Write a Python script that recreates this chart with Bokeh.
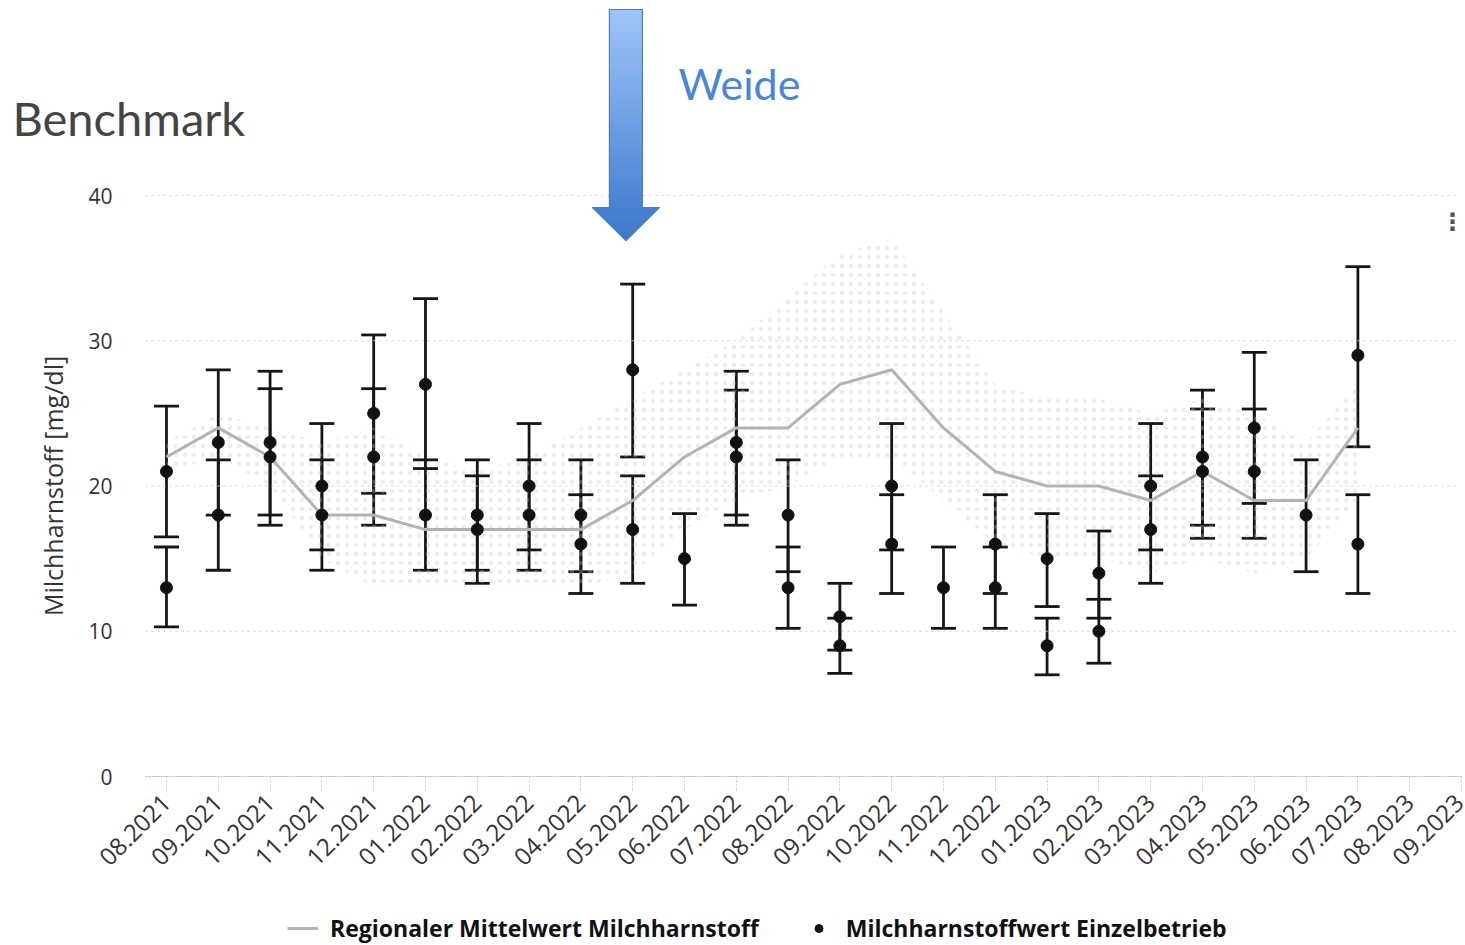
import math
from bokeh.plotting import figure
from bokeh.models import (Range1d, FixedTicker, Whisker, TeeHead, ColumnDataSource,
                          Legend, LegendItem, Label)
from bokeh.embed import file_html
from bokeh.resources import INLINE

# ---------------- data ----------------
months = ["08.2021", "09.2021", "10.2021", "11.2021", "12.2021", "01.2022", "02.2022",
          "03.2022", "04.2022", "05.2022", "06.2022", "07.2022", "08.2022", "09.2022",
          "10.2022", "11.2022", "12.2022", "01.2023", "02.2023", "03.2023", "04.2023",
          "05.2023", "06.2023", "07.2023", "08.2023", "09.2023"]

# regional mean (08.2021 .. 07.2023)
regional_mean = [22, 24, 22, 18, 18, 17, 17, 17, 17, 19, 22, 24, 24, 27, 28, 24,
                 21, 20, 20, 19, 21, 19, 19, 24]
# faint regional spread band
band_low = [21, 22, 20, 15, 13, 13, 13, 13, 13, 14, 17, 19, 20, 22, 22, 19,
            16, 15, 15, 14, 15, 14, 15, 19]
band_high = [23, 25, 24, 23, 24, 22, 21, 22, 24, 26, 28, 30, 33, 36, 37, 32,
             27, 26, 26, 25, 26, 25, 23, 27]

# single-farm values (first measurement) with error bars
farm_a = [21, 23, 23, 20, 25, 27, 18, 20, 18, 28, 15, 23, 18, 11, 20, 13,
          16, 15, 14, 20, 22, 24, 18, 29]
farm_a_low = [16.5, 18.0, 18.0, 15.6, 19.5, 21.2, 14.2, 15.6, 14.1, 22.0, 11.8, 18.0,
              14.1, 8.7, 15.6, 10.2, 12.6, 11.7, 10.9, 15.6, 17.3, 18.8, 14.1, 22.7]
farm_a_high = [25.5, 28.0, 27.9, 24.3, 30.4, 32.9, 21.8, 24.3, 21.8, 33.9, 18.1, 27.9,
               21.8, 13.3, 24.3, 15.8, 19.4, 18.1, 16.9, 24.3, 26.6, 29.2, 21.8, 35.1]
# second measurement (None = no second value)
farm_b = [13, 18, 22, 18, 22, 18, 17, 18, 16, 17, None, 22, 13, 9, 16, None,
          13, 9, 10, 17, 21, 21, None, 16]
farm_b_low = [10.3, 14.2, 17.3, 14.2, 17.3, 14.2, 13.3, 14.2, 12.6, 13.3, None, 17.3,
              10.2, 7.1, 12.6, None, 10.2, 7.0, 7.8, 13.3, 16.4, 16.4, None, 12.6]
farm_b_high = [15.8, 21.8, 26.7, 21.8, 26.7, 21.8, 20.7, 21.8, 19.4, 20.7, None, 26.6,
               15.8, 10.9, 19.4, None, 15.8, 10.9, 12.2, 20.7, 25.3, 25.3, None, 19.4]

y_ticks = [0, 10, 20, 30, 40]
pasture_month = "05.2022"

# ---------------- layout constants (page px) ----------------
W, H = 1465, 945
PLOT_L, PLOT_R = 145, 1457      # chart area left / right
ZERO_Y, FORTY_Y = 776, 195      # page y of value 0 and 40
PX_X = 51.8
X0 = -0.405                     # data x at PLOT_L
PX_Y = (ZERO_Y - FORTY_Y) / 40.0
XS = X0 - PLOT_L / PX_X
XE = XS + W / PX_X
X_END = X0 + (PLOT_R - PLOT_L) / PX_X
YB = -(H - ZERO_Y) / PX_Y
YT = ZERO_Y / PX_Y


def data_x(px):
    return XS + px / PX_X


def data_y(py):
    return (ZERO_Y - py) / PX_Y


p = figure(width=W, height=H, output_backend="svg", toolbar_location=None,
           x_range=Range1d(XS, XE), y_range=Range1d(YB, YT),
           min_border_left=0, min_border_right=0, min_border_top=0, min_border_bottom=0)
p.outline_line_color = None
p.background_fill_color = "white"
p.border_fill_color = "white"
p.xgrid.visible = False
p.ygrid.visible = False

# x axis (drawn at value 0)
xa = p.xaxis[0]
xa.fixed_location = 0
xa.bounds = (X0, len(months) - 1)
xa.ticker = FixedTicker(ticks=list(range(len(months))))
xa.major_label_overrides = {i: m for i, m in enumerate(months)}
xa.major_label_orientation = math.pi / 4
xa.major_label_text_font = "Open Sans"
xa.major_label_text_font_size = "24px"
xa.major_label_text_color = "#333333"
xa.axis_line_color = "#b8b8b8"
xa.axis_line_dash = "2 1"
xa.major_tick_line_color = "#c8c8c8"
xa.major_tick_line_dash = "2 2"
xa.major_tick_out = 14
xa.major_tick_in = 0
xa.minor_tick_line_color = None
xa.major_label_standoff = 8

# y axis (drawn at the chart's left edge)
ya = p.yaxis[0]
ya.fixed_location = X0
ya.bounds = (0, 40)
ya.ticker = FixedTicker(ticks=y_ticks)
ya.axis_line_color = None
ya.major_tick_line_color = None
ya.minor_tick_line_color = None
ya.major_label_text_font = "Open Sans"
ya.major_label_text_font_size = "21px"
ya.major_label_text_color = "#333333"
ya.major_label_standoff = 27
ya.axis_label = "Milchharnstoff [mg/dl]"
ya.axis_label_text_font = "Open Sans"
ya.axis_label_text_font_size = "25px"
ya.axis_label_text_font_style = "normal"
ya.axis_label_text_color = "#333333"
ya.axis_label_standoff = 15

# dotted horizontal grid lines across the chart area
gy = y_ticks[1:]
p.segment(x0=[X0] * len(gy), x1=[X_END] * len(gy), y0=gy, y1=gy,
          line_color="#cccccc", line_dash="2 4", line_width=1)

n = len(regional_mean)
xs = list(range(n))

p.varea(x=xs, y1=band_low, y2=band_high, fill_alpha=0.0,
        hatch_pattern="dot", hatch_color="#c4c4c4", hatch_alpha=0.3,
        hatch_scale=9, hatch_weight=1)

mean_r = p.line(xs, regional_mean, line_color="#b3b3b3", line_width=3)

px, py, plo, phi = [], [], [], []
for i in range(n):
    for v, lo, hi in ((farm_a[i], farm_a_low[i], farm_a_high[i]),
                      (farm_b[i], farm_b_low[i], farm_b_high[i])):
        if v is not None:
            px.append(i); py.append(v); plo.append(lo); phi.append(hi)
src = ColumnDataSource(dict(x=px, y=py, lower=plo, upper=phi))

whisk = Whisker(source=src, base="x", lower="lower", upper="upper",
                line_color="#161616", line_width=2.8,
                upper_head=TeeHead(size=25, line_color="#161616", line_width=2.8),
                lower_head=TeeHead(size=25, line_color="#161616", line_width=2.8))
p.add_layout(whisk)
pts_r = p.scatter("x", "y", source=src, size=12, color="#111111")

# ---------------- pasture arrow (vertical gradient) ----------------
ax = months.index(pasture_month) - 0.13
shw = 16.5 / PX_X
hhw = 33.5 / PX_X
Y_TOP, Y_BASE, Y_TIP = 9, 207, 240
c_top = (160, 197, 250)
c_bot = (60, 119, 203)


def grad(pyv):
    t = (pyv - Y_TOP) / (Y_TIP - Y_TOP)
    t = max(0.0, min(1.0, t))
    c = [int(round(a + (b - a) * t)) for a, b in zip(c_top, c_bot)]
    return "#%02x%02x%02x" % tuple(c)


steps = 60
ql, qr, qt, qb, qc = [], [], [], [], []
for k in range(steps):
    pa = Y_TOP + (Y_BASE - Y_TOP) * k / steps
    pb = Y_TOP + (Y_BASE - Y_TOP) * (k + 1) / steps
    ql.append(ax - shw); qr.append(ax + shw)
    qt.append(data_y(pa)); qb.append(data_y(pb)); qc.append(grad((pa + pb) / 2))
p.quad(left=ql, right=qr, top=qt, bottom=qb, fill_color=qc, line_color=qc, line_width=1)

hxs, hys, hcol = [], [], []
hsteps = 16
for k in range(hsteps):
    pa = Y_BASE + (Y_TIP - Y_BASE) * k / hsteps
    pb = Y_BASE + (Y_TIP - Y_BASE) * (k + 1) / hsteps
    wa = hhw * (Y_TIP - pa) / (Y_TIP - Y_BASE)
    wb = hhw * (Y_TIP - pb) / (Y_TIP - Y_BASE)
    hxs.append([ax - wa, ax + wa, ax + wb, ax - wb])
    hys.append([data_y(pa), data_y(pa), data_y(pb), data_y(pb)])
    hcol.append(grad((pa + pb) / 2))
p.patches(hxs, hys, fill_color=hcol, line_color=hcol, line_width=1)

yt_d, yb_d, yp_d = data_y(Y_TOP), data_y(Y_BASE), data_y(Y_TIP)
p.patch([ax - shw, ax + shw, ax + shw, ax + hhw, ax, ax - hhw, ax - shw],
        [yt_d, yt_d, yb_d, yb_d, yp_d, yb_d, yb_d],
        fill_alpha=0, line_color="#4a7fc9", line_width=1.2)

# ---------------- texts ----------------
p.add_layout(Label(x=data_x(12), y=data_y(117), text="Benchmark", text_font="Lato",
                   text_font_size="47px", text_color="#444444",
                   text_align="left", text_baseline="alphabetic"))
p.add_layout(Label(x=data_x(678), y=data_y(83), text="Weide", text_font="Lato",
                   text_font_size="43px", text_color="#4a86d5",
                   text_align="left", text_baseline="alphabetic"))
p.add_layout(Label(x=data_x(1452), y=data_y(221), text="⋮", text_font="DejaVu Sans",
                   text_font_size="24px", text_color="#555555", text_font_style="bold",
                   text_align="center", text_baseline="middle"))

# ---------------- legend ----------------
legend = Legend(items=[LegendItem(label="Regionaler Mittelwert Milchharnstoff", renderers=[mean_r]),
                       LegendItem(label="Milchharnstoffwert Einzelbetrieb", renderers=[pts_r])],
                location=(287, 1), orientation="horizontal",
                label_text_font="Open Sans", label_text_font_style="bold",
                label_text_font_size="23px", label_text_color="#111111",
                glyph_width=31, glyph_height=20, label_standoff=12, spacing=44,
                padding=0, margin=0, border_line_alpha=0, background_fill_alpha=0)
p.add_layout(legend)

open("out.html", "w").write(file_html(p, INLINE))
